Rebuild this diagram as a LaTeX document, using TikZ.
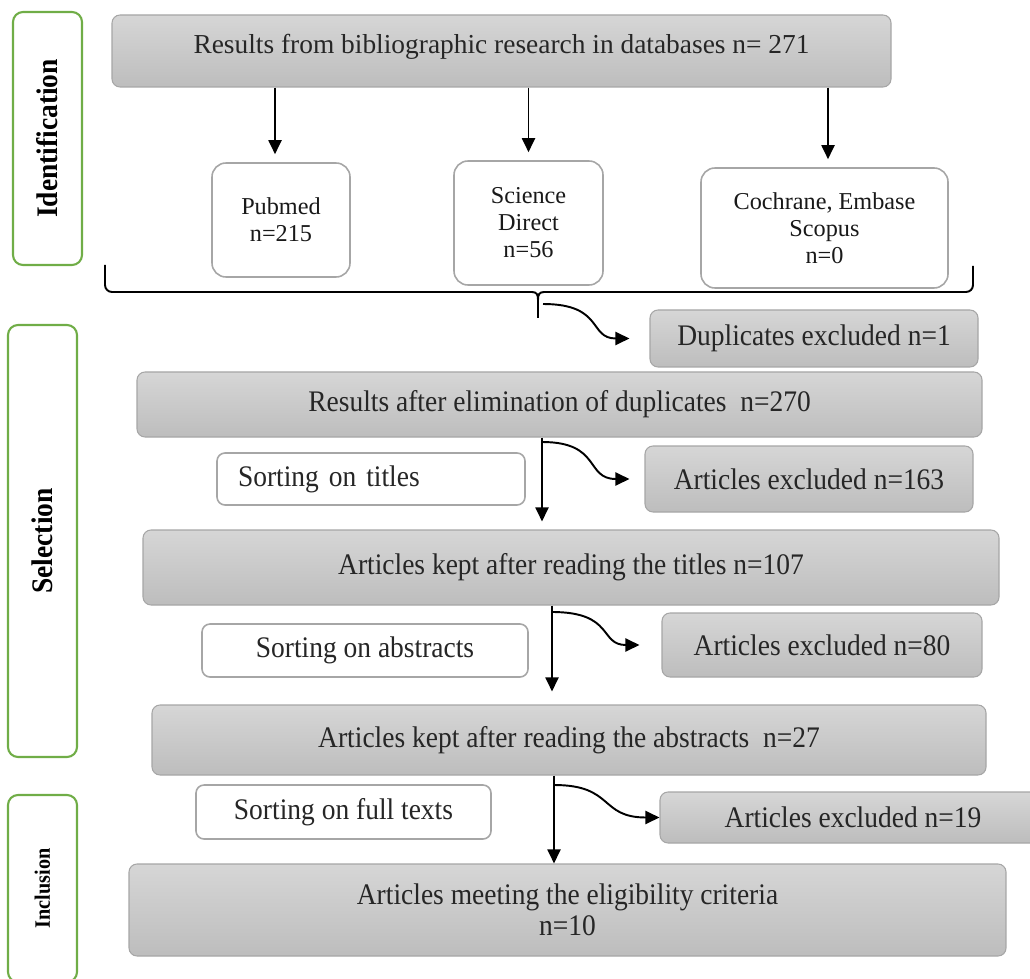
\documentclass[tikz,border=0pt]{standalone}
\usepackage{fontspec}
\setmainfont{Liberation Serif}[FakeStretch=0.92]
\newfontfamily\plainserif{Liberation Serif}
\usetikzlibrary{arrows.meta}
\definecolor{phasegreen}{HTML}{70AD47}
\definecolor{boxtop}{HTML}{D6D6D6}
\definecolor{boxbot}{HTML}{BDBDBD}
\definecolor{boxline}{HTML}{A6A6A6}
\begin{document}
\begin{tikzpicture}[
    x=0.02cm, y=-0.02cm,
    sz/.style 2 args={minimum width=#1*0.02cm, minimum height=#2*0.02cm},
    result/.style={draw=boxline, line width=0.6pt, rounded corners=0.16cm, top color=boxtop, bottom color=boxbot,
      text=black!85, inner sep=0pt, align=center, font=\fontsize{17}{17.6}\selectfont},
    dbbox/.style={draw=boxline, line width=0.9pt, rounded corners=0.28cm, fill=white, text=black!90,
      inner sep=0pt, align=center, font=\plainserif\fontsize{13.8}{15.4}\selectfont},
    sortbox/.style={draw=boxline, line width=0.9pt, rounded corners=0.16cm, fill=white, text=black!85,
      inner sep=0pt, font=\fontsize{17}{17.6}\selectfont},
    phase/.style={draw=phasegreen, line width=1.2pt, rounded corners=0.2cm, rotate=90, inner sep=0pt,
      font=\bfseries\fontsize{17}{17.6}\selectfont},
    arr/.style={line width=1.1pt, -{Triangle[length=0.28cm, width=0.26cm]}},
    swerve/.style={out=0, in=180, looseness=1.4},
  ]
  \useasboundingbox (0,0) rectangle (1030,979);
  \clip (0,0) rectangle (1030,979);

  % phases
  \node[phase, sz={253}{69}] (gid) at (47.5,138.5) {Identification};
  \node[phase, sz={432}{69}] (gsel) at (42.5,541) {Selection};
  \node[phase, sz={187}{69}, font=\bfseries\fontsize{12.5}{13}\selectfont] (ginc) at (42.5,888.5) {Inclusion};

  % identification
  \node[result, sz={779}{72}, text depth=0.28cm, font=\plainserif\fontsize{15.6}{17.6}\selectfont] (top) at (501.5,51) {Results from bibliographic research in databases n= 271};
  \node[dbbox, sz={138}{114}] (pub) at (281,220) {Pubmed\\n=215};
  \node[dbbox, sz={149}{124}] (sd) at (528.5,223) {Science\\Direct\\n=56};
  \node[dbbox, sz={247}{120}] (coch) at (824.5,228) {Cochrane, Embase\\Scopus\\n=0};

  \draw[arr, shorten >=0.16cm] ([xshift=-0.12cm]pub.north |- top.south) -- ([xshift=-0.12cm]pub.north);
  \draw[arr, shorten >=0.16cm] (sd.north |- top.south) -- (sd.north);
  \draw[arr, shorten >=0.16cm] ([xshift=0.07cm]coch.north |- top.south) -- ([xshift=0.07cm]coch.north);

  % brace under the databases
  \draw[line width=1.1pt, rounded corners=0.14cm] (105,265) -- (105,292) -- (532,292);
  \draw[line width=1.1pt] (532,292) .. controls (537,292) and (538,295) .. (538,300) -- (538,318);
  \draw[line width=1.1pt] (544,292) .. controls (539,292) and (538,295) .. (538,300);
  \draw[line width=1.1pt, rounded corners=0.14cm] (544,292) -- (973,292) -- (973,266);
  \coordinate (b0) at (543,304);

  % selection
  \node[result, sz={328}{57}] (dup) at (814,338.5) {Duplicates excluded n=1};
  \node[result, sz={845}{65}] (e270) at (559.5,404.5) {Results after elimination of duplicates\ \ n=270};
  \node[sortbox, sz={308}{52}, text width=266*0.02cm, inner xsep=21*0.02cm, align=left] (stitle) at (371,479) {Sorting on titles};
  \node[result, sz={328}{66}] (ex163) at (809,479) {Articles excluded n=163};
  \node[result, sz={856}{75}] (titles) at (571,567.5) {Articles kept after reading the titles n=107};
  \node[sortbox, sz={326}{53}] (sabs) at (365,650.5) {Sorting on abstracts};
  \node[result, sz={320}{64}] (ex80) at (822,645) {Articles excluded n=80};
  \node[result, sz={834}{70}] (abstr) at (569,740) {Articles kept after reading the abstracts\ \ n=27};

  % inclusion
  \node[sortbox, sz={295}{54}] (sfull) at (343.5,812) {Sorting on full texts};
  \node[result, sz={386}{51}] (ex19) at (853,817.5) {Articles excluded n=19};
  \node[result, sz={877}{92}, font=\fontsize{17}{17.6}\selectfont] (final) at (567.5,910) {Articles meeting the eligibility criteria\\n=10};

  \draw[arr, shorten >=0.4cm] (b0) to[swerve] (dup.west);

  \coordinate (c1) at (542,442);
  \draw[arr, shorten >=0.16cm] (c1 |- e270.south) -- (c1 |- titles.north);
  \draw[arr, shorten >=0.3cm] (c1) to[swerve] (ex163.west);

  \coordinate (c2) at (552,612);
  \draw[arr, shorten >=0.26cm] (c2 |- titles.south) -- (c2 |- abstr.north);
  \draw[arr, shorten >=0.44cm] (c2) to[swerve] (ex80.west);

  \coordinate (c3) at (554,785);
  \draw[arr] (c3 |- abstr.south) -- (c3 |- final.north);
  \draw[arr] (c3) to[swerve] (ex19.west);
\end{tikzpicture}
\end{document}
